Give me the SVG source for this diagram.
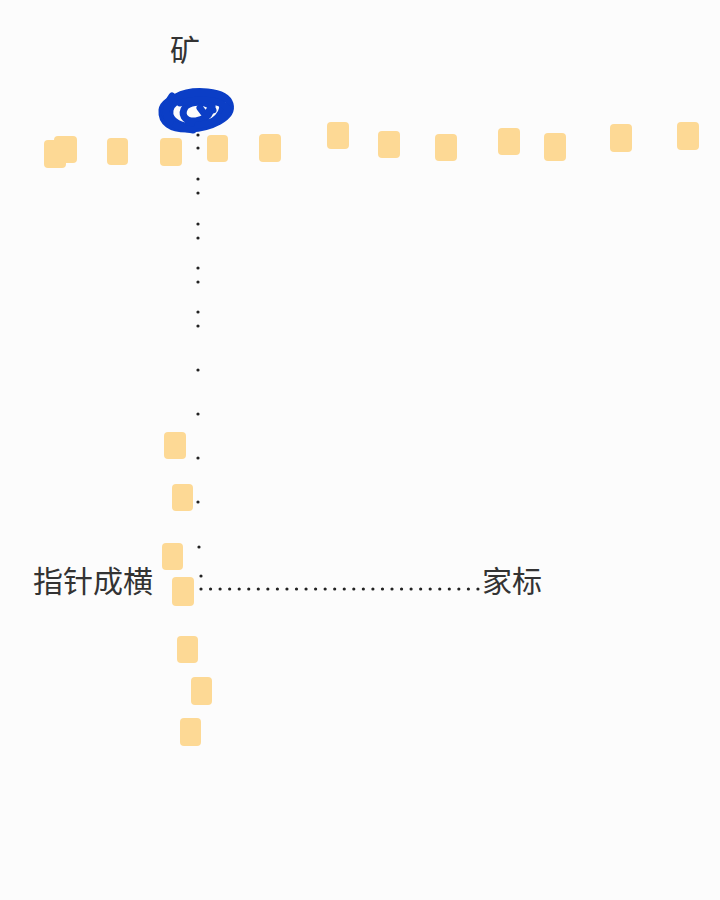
<svg xmlns="http://www.w3.org/2000/svg" width="720" height="900" viewBox="0 0 720 900">
<style>
.sq{fill:#fdd995;}
.t{font-family:"Noto Sans CJK SC","Noto Sans",sans-serif;font-size:30px;fill:#333;}
.d{fill:#222;}
.sc{fill:none;stroke:#0b3ec6;stroke-width:7;stroke-linecap:round;stroke-linejoin:round;}
</style>
<rect width="720" height="900" fill="#fcfcfc"/>
<g id="labels">
<text class="t" x="170" y="61">矿</text>
<text class="t" x="33" y="592">指针成横</text>
<text class="t" x="482" y="592">家标</text>
</g>
<g id="scribble">
<path class="sc" d="M176,97 C192,88 226,90 230,104 C234,118 210,128 190,129 C170,130 161,122 162,110 C164,96 200,90 216,97 C229,104 222,122 200,126 C182,129 168,121 170,110 C172,99 192,95 205,99 C216,104 212,118 196,121 C184,122 180,114 186,106 C194,100 210,101 213,110"/>
<path class="sc" d="M164,112 C167,122 178,128 193,130 M180,103 C196,98 220,99 227,108 C227,118 210,124 198,125"/>
<path class="sc" d="M172,96 C166,104 164,116 170,122 M200,108 L206,116 L212,106"/>
</g>
<g id="top-row">
<rect class="sq" x="44" y="140" width="22" height="28" rx="4"/>
<rect class="sq" x="54" y="136" width="23" height="27" rx="4"/>
<rect class="sq" x="107" y="138" width="21" height="27" rx="4"/>
<rect class="sq" x="160" y="138" width="22" height="28" rx="4"/>
<rect class="sq" x="207" y="135" width="21" height="27" rx="4"/>
<rect class="sq" x="259" y="134" width="22" height="28" rx="4"/>
<rect class="sq" x="327" y="122" width="22" height="27" rx="4"/>
<rect class="sq" x="378" y="131" width="22" height="27" rx="4"/>
<rect class="sq" x="435" y="134" width="22" height="27" rx="4"/>
<rect class="sq" x="498" y="128" width="22" height="27" rx="4"/>
<rect class="sq" x="544" y="133" width="22" height="28" rx="4"/>
<rect class="sq" x="610" y="124" width="22" height="28" rx="4"/>
<rect class="sq" x="677" y="122" width="22" height="28" rx="4"/>
</g>
<g id="column">
<rect class="sq" x="164" y="432" width="22" height="27" rx="4"/>
<rect class="sq" x="172" y="484" width="21" height="27" rx="4"/>
<rect class="sq" x="162" y="543" width="21" height="27" rx="4"/>
<rect class="sq" x="172" y="577" width="22" height="29" rx="4"/>
<rect class="sq" x="177" y="636" width="21" height="27" rx="4"/>
<rect class="sq" x="191" y="677" width="21" height="28" rx="4"/>
<rect class="sq" x="180" y="718" width="21" height="28" rx="4"/>
</g>
<g id="connectors">
<g class="d">
<circle cx="198" cy="135" r="1.6"/><circle cx="198" cy="148" r="1.6"/>
<circle cx="198" cy="179" r="1.6"/><circle cx="198" cy="193" r="1.6"/>
<circle cx="198" cy="224" r="1.6"/><circle cx="198" cy="238" r="1.6"/>
<circle cx="198" cy="268" r="1.6"/><circle cx="198" cy="282" r="1.6"/>
<circle cx="198" cy="312" r="1.6"/><circle cx="198" cy="326" r="1.6"/>
<circle cx="198" cy="370" r="1.6"/>
<circle cx="198" cy="414" r="1.6"/>
<circle cx="198" cy="458" r="1.6"/>
<circle cx="198" cy="502" r="1.6"/>
<circle cx="199" cy="547" r="1.6"/>
<circle cx="201" cy="576" r="1.6"/>
</g>
<line x1="201" y1="589" x2="478" y2="589" stroke="#222" stroke-width="3.2" stroke-linecap="round" stroke-dasharray="0 9.55"/>
</g>
</svg>
